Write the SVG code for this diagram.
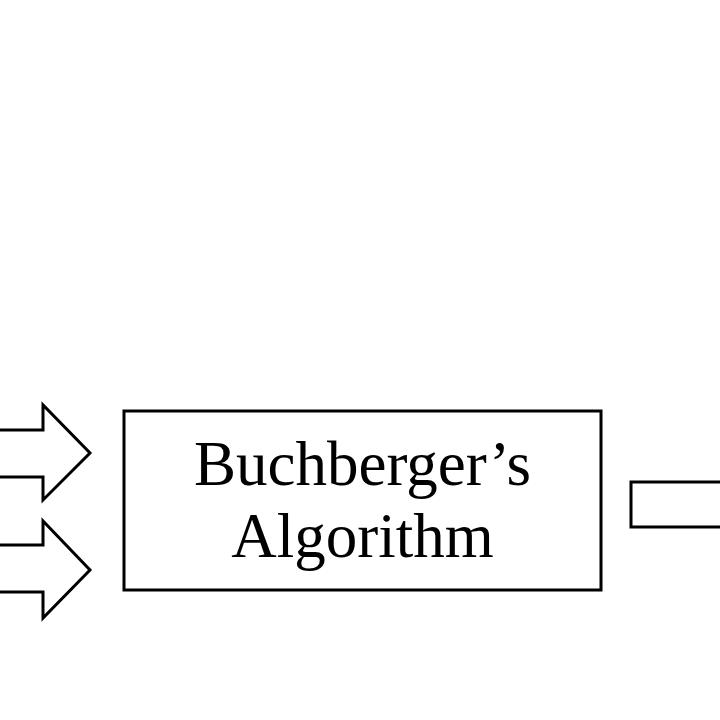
<svg xmlns="http://www.w3.org/2000/svg" width="720" height="720" viewBox="0 0 720 720">
<style>
.s{fill:#fff;stroke:#000;stroke-width:3;stroke-linejoin:miter}
.t{font-family:"Liberation Serif","Times New Roman",serif;font-size:63px;fill:#000;text-anchor:middle}
</style>
<rect width="720" height="720" fill="#fff"/>
<g id="connectors">
<path class="s" d="M-5,430 H43 V405 L90,453 L43,500 V477 H-5 Z"/>
<path class="s" d="M-5,545 H43 V521 L90,570 L43,618 V592 H-5 Z"/>
<path class="s" d="M730,482 H631 V527 H730"/>
</g>
<g id="buchberger">
<rect class="s" x="124" y="411" width="477" height="179"/>
<text class="t" x="362.5" y="485">Buchberger’s</text>
<text class="t" x="362.5" y="557">Algorithm</text>
</g>
</svg>
